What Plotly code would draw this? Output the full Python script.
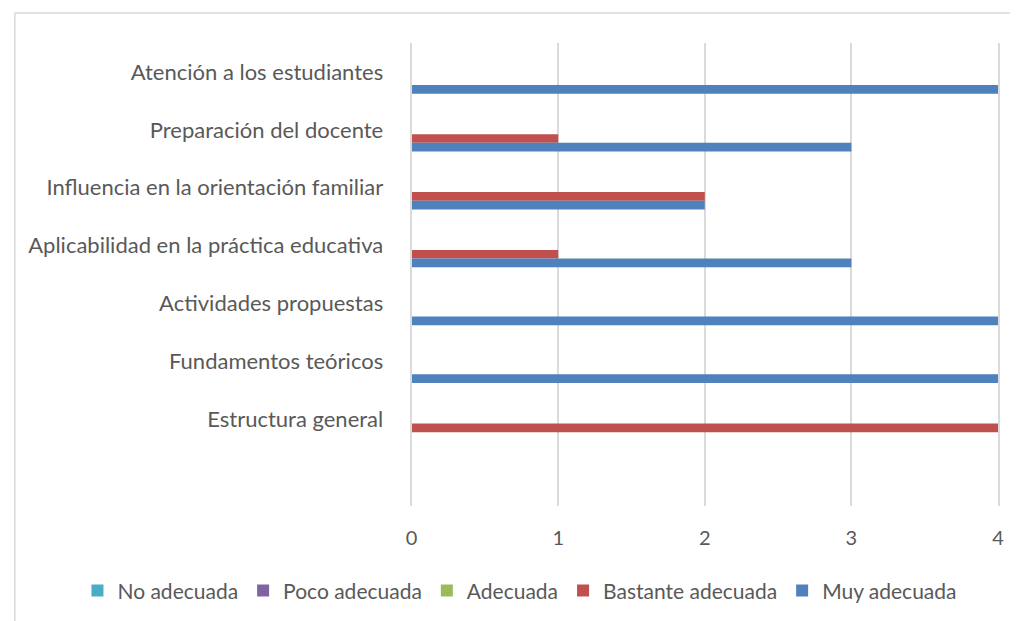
import plotly.graph_objects as go

categories = [
    "Atención a los estudiantes",
    "Preparación del docente",
    "Influencia en la orientación familiar",
    "Aplicabilidad en la práctica educativa",
    "Actividades propuestas",
    "Fundamentos teóricos",
    "Estructura general",
    " ",
]
series_names = ["No adecuada", "Poco adecuada", "Adecuada", "Bastante adecuada", "Muy adecuada"]
no_adecuada = [0, 0, 0, 0, 0, 0, 0, 0]
poco_adecuada = [0, 0, 0, 0, 0, 0, 0, 0]
adecuada = [0, 0, 0, 0, 0, 0, 0, 0]
bastante_adecuada = [0, 1, 2, 1, 0, 0, 4, 0]
muy_adecuada = [4, 3, 2, 3, 4, 4, 0, 0]
x_ticks = [0, 1, 2, 3, 4]

colors = ["#4BACC6", "#8064A2", "#9BBB59", "#C0504D", "#4F81BD"]
values = [no_adecuada, poco_adecuada, adecuada, bastante_adecuada, muy_adecuada]

# page has an 8px body margin, so the figure is offset by (8, 8)
W, H = 1010, 613
ML, MR, T, B = 10, 20, 35, 114
pw_full = W - ML - MR
ph = H - T - B
plot_x0, plot_x1 = 400, 990  # plot area in figure pixels

fig = go.Figure()
for name, vals, col in zip(series_names, values, colors):
    fig.add_trace(go.Bar(y=categories, x=vals, name=name, orientation="h",
                         marker=dict(color=col, line=dict(width=0))))

font_family = "Lato, 'Open Sans', sans-serif"
fig.update_layout(
    width=W, height=H,
    margin=dict(l=ML, r=MR, t=T, b=B),
    paper_bgcolor="white", plot_bgcolor="white",
    barmode="group", bargap=0.25, bargroupgap=0,
    font=dict(family=font_family, color="#595959", size=21),
    xaxis=dict(domain=[(plot_x0 - ML) / pw_full, (plot_x1 - ML) / pw_full],
               range=[0, 4], tickvals=x_ticks, showgrid=True, gridcolor="#DADADA",
               gridwidth=2, zeroline=False, showline=False, ticks="",
               tickfont=dict(size=20), ticklabelstandoff=18),
    yaxis=dict(categoryorder="array", categoryarray=categories, autorange="reversed",
               showgrid=False, zeroline=False, showline=True, mirror=True,
               linecolor="#DADADA", linewidth=2, ticks="",
               tickfont=dict(size=22), ticklabelstandoff=22),
    legend=dict(orientation="h", x=(509 - ML) / pw_full, xanchor="center",
                y=-(584 - (T + ph)) / ph, yanchor="middle",
                font=dict(size=21), itemwidth=30, traceorder="normal"),
    showlegend=True,
)

# chart border (top and left edges visible)
bx0 = (0.75 - ML) / pw_full
by0 = (T + ph - 5) / ph
fig.add_shape(type="line", xref="paper", yref="paper", x0=bx0, x1=(W + 10 - ML) / pw_full,
              y0=by0, y1=by0, line=dict(color="#D9D9D9", width=1.5))
fig.add_shape(type="line", xref="paper", yref="paper", x0=bx0, x1=bx0,
              y0=by0, y1=-(H + 10 - T - ph) / ph, line=dict(color="#D9D9D9", width=1.5))

fig.write_html("out.html")
